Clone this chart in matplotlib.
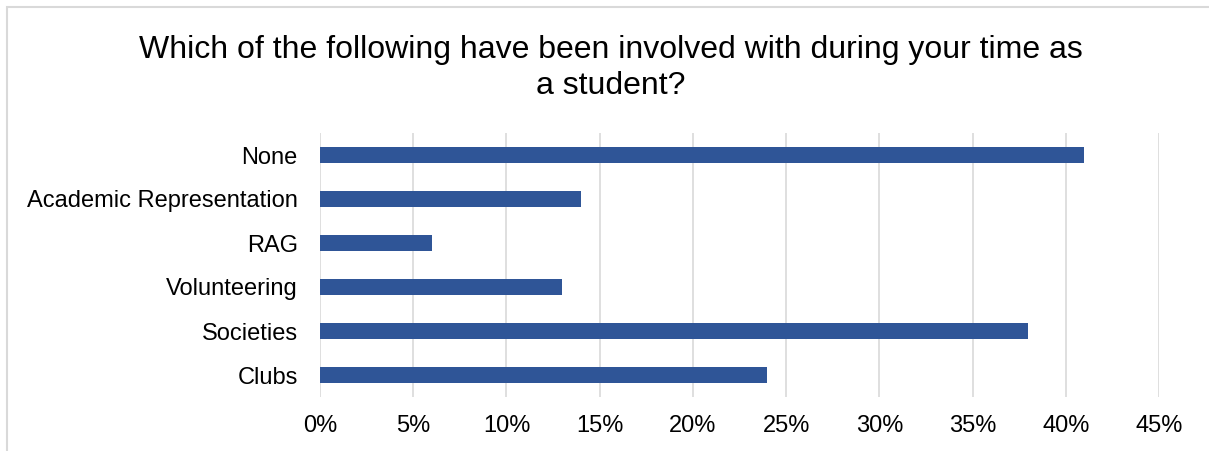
import matplotlib.pyplot as plt
from matplotlib.patches import Rectangle
from matplotlib.ticker import PercentFormatter

plt.rcParams['font.family'] = ['Liberation Sans', 'DejaVu Sans']

categories = ['Clubs', 'Societies', 'Volunteering', 'RAG',
              'Academic Representation', 'None']
shares = [24, 38, 13, 6, 14, 41]
xticks = list(range(0, 50, 5))

title = ('Which of the following have been involved with during your time as\n'
         'a student?')


def main():
    fig = plt.figure(figsize=(12.09, 4.51), dpi=100)
    ax = fig.add_axes([320 / 1209, 1 - 397 / 451, 839 / 1209, 264 / 451])

    ax.barh(range(len(categories)), shares, height=0.35, color='#2f5597',
            zorder=3)
    ax.set_xlim(0, 45)
    ax.set_ylim(-0.5, len(categories) - 0.5)
    ax.set_xticks(xticks)
    ax.xaxis.set_major_formatter(PercentFormatter(decimals=0))
    ax.set_yticks(range(len(categories)))
    ax.set_yticklabels(categories)
    ax.grid(axis='x', color='#d9d9d9', lw=1.2, zorder=0)
    for s in ax.spines.values():
        s.set_visible(False)
    ax.tick_params(length=0, labelsize=17, colors='black')
    ax.tick_params(axis='x', pad=13)
    ax.tick_params(axis='y', pad=16)

    fig.text(0.505, 1 - 68 / 451, title, ha='center', va='center',
             fontsize=23, linespacing=1.28)

    # chart frame, left and top edges only show
    fig.patches.append(Rectangle((7 / 1209, -0.1), 1.2, 1 - 7 / 451 + 0.1,
                                 transform=fig.transFigure, fill=False,
                                 ec='#d9d9d9', lw=1.5))

    fig.savefig('out.png', dpi=100)


if __name__ == '__main__':
    main()
